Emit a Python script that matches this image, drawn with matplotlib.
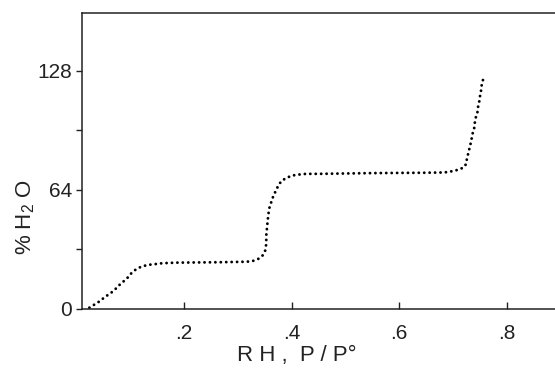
import matplotlib
matplotlib.use("Agg")
import matplotlib.pyplot as plt
from matplotlib import font_manager

# digitized isotherm (RH vs % water)
rh = [0.024, 0.034, 0.044, 0.052, 0.064, 0.072, 0.083, 0.093, 0.102, 0.111,
      0.121, 0.133, 0.143, 0.160, 0.186, 0.22, 0.26, 0.30, 0.317, 0.328,
      0.338, 0.346, 0.351, 0.353, 0.353, 0.355, 0.356, 0.357, 0.359, 0.362,
      0.364, 0.367, 0.371, 0.376, 0.382, 0.392, 0.401, 0.411, 0.421, 0.430,
      0.451, 0.50, 0.55, 0.60, 0.65, 0.676, 0.689, 0.700, 0.710, 0.720,
      0.725, 0.726, 0.728, 0.730, 0.733, 0.735, 0.737, 0.740, 0.741, 0.743,
      0.746, 0.747, 0.749, 0.750, 0.752, 0.753, 0.754, 0.756]
water = [0.7, 2.5, 4.3, 6.3, 8.6, 10.6, 13.8, 16.1, 19.2, 21.4,
         22.8, 23.7, 24.0, 24.6, 24.9, 25.0, 25.1, 25.3, 25.4, 25.8,
         26.9, 28.7, 31.4, 35.0, 39.6, 45.6, 48.4, 51.1, 54.5, 57.2,
         59.0, 61.3, 63.6, 66.7, 69.0, 70.6, 71.7, 72.1, 72.5, 72.6,
         72.6, 72.8, 73.0, 73.1, 73.2, 73.3, 73.5, 74.1, 74.8, 76.0,
         78.0, 80.5, 82.8, 85.2, 88.8, 91.6, 94.5, 97.5, 100.4, 103.3,
         106.0, 108.7, 111.2, 113.7, 116.2, 118.9, 121.0, 123.0]

x_ticks = [0.2, 0.4, 0.6, 0.8]
x_ticklabels = [".2", ".4", ".6", ".8"]
y_ticks = [0, 32, 64, 96, 128]
y_ticklabels = ["0", "", "64", "", "128"]

names = {f.name for f in font_manager.fontManager.ttflist}
family = "Liberation Sans Narrow" if "Liberation Sans Narrow" in names else "Liberation Sans"
plt.rcParams["font.family"] = [family, "DejaVu Sans"]
plt.rcParams["mathtext.fontset"] = "custom"
plt.rcParams["mathtext.rm"] = family

fig = plt.figure(figsize=(5.55, 3.73), dpi=100)
ax = fig.add_axes([0.1477, 0.1716, 0.8523, 0.7935])

ax.plot(rh, water, color="black", linewidth=2.1,
        linestyle=(0, (0.01, 1.85)), dash_capstyle="round")

ax.set_xlim(0.0102, 0.890)
ax.set_ylim(0, 159)

for side in ["left", "top", "bottom"]:
    ax.spines[side].set_linewidth(1.1)
    ax.spines[side].set_color("#222222")
ax.spines["right"].set_visible(False)

ax.set_xticks(x_ticks)
ax.set_xticklabels(x_ticklabels)
ax.set_yticks(y_ticks)
ax.set_yticklabels(y_ticklabels)
ax.tick_params(axis="x", direction="in", length=5, width=1.0, pad=11,
               labelsize=15, colors="#222222")
ax.tick_params(axis="y", direction="out", length=4, width=1.0, pad=3,
               labelsize=15, colors="#222222")

ax.set_xlabel("R H ,  P / P°", fontsize=16, color="#222222")
ax.xaxis.set_label_coords(0.455, -0.12)
ax.set_ylabel("% H$_2$ O", fontsize=16, color="#222222")
ax.yaxis.set_label_coords(-0.095, 0.31)

fig.savefig("out.png", dpi=100)
